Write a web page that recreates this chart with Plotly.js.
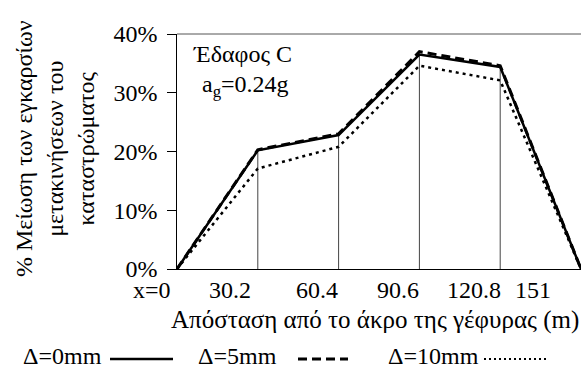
<!DOCTYPE html>
<html>
<head>
<meta charset="utf-8">
<script src="https://cdn.plot.ly/plotly-3.0.1.min.js"></script>
<style>html,body{margin:0;padding:0;background:#fff;}#chart{width:584px;height:372px;}</style>
</head>
<body>
<div id="chart"></div>
<script>
// Data
const distances = [0, 30.2, 60.4, 90.6, 120.8, 151];
const tickLabels = ['x=0', '30.2', '60.4', '90.6', '120.8', '151'];
const d0mm = [0, 20.2, 22.8, 36.5, 34.4, 0];
const d5mm = [0, 20.3, 23.0, 37.0, 34.6, 0];
const d10mm = [0, 17.1, 20.8, 34.6, 32.1, 0];
const seriesNames = ['Δ=0mm', 'Δ=5mm', 'Δ=10mm'];
const yTicks = [0, 10, 20, 30, 40];

const FONT = 'Liberation Serif';

// vertical support lines at interior positions, up to solid-line value
const vx = [], vy = [];
for (let i = 1; i < distances.length - 1; i++) {
  vx.push(distances[i], distances[i], null);
  vy.push(0, d0mm[i], null);
}

const traces = [
  {x: vx, y: vy, mode: 'lines', line: {color: '#444', width: 1}, hoverinfo: 'skip', showlegend: false},
  {x: distances, y: d10mm, mode: 'lines', name: seriesNames[2], line: {color: '#000', width: 2.5, dash: '3px,4px'}, showlegend: false},
  {x: distances, y: d5mm, mode: 'lines', name: seriesNames[1], line: {color: '#000', width: 3, dash: '9px,5px'}, showlegend: false},
  {x: distances, y: d0mm, mode: 'lines', name: seriesNames[0], line: {color: '#000', width: 2.5}, showlegend: false}
];

// plot geometry helpers (pixels -> paper)
const L = 177, R = 3, T = 34, B = 103, W = 584, H = 372;
const PW = W - L - R, PH = H - T - B;
const px = p => (p - L) / PW;
const py = p => (H - B - p) / PH;

const labelShift = [-25, -28, -22, -21, -26, -48];
const annotations = [];
distances.forEach((d, i) => {
  annotations.push({x: d, y: py(290), xref: 'x', yref: 'paper', text: tickLabels[i], showarrow: false,
    xshift: labelShift[i], xanchor: 'center', yanchor: 'middle', font: {family: FONT, size: 24, color: '#000'}});
});
annotations.push({x: px(169), y: py(320), xref: 'paper', yref: 'paper', text: 'Απόσταση από το άκρο της γέφυρας (m)',
  showarrow: false, xanchor: 'left', yanchor: 'middle', font: {family: FONT, size: 25, color: '#000'}});
annotations.push({x: px(55), y: py(149), xref: 'paper', yref: 'paper', textangle: -90,
  text: '% Μείωση των εγκαρσίων<br>μετακινήσεων του<br>καταστρώματος',
  showarrow: false, xanchor: 'center', yanchor: 'middle', font: {family: FONT, size: 24, color: '#000'}});
annotations.push({x: px(191), y: py(54), xref: 'paper', yref: 'paper', text: 'Έδαφος C',
  showarrow: false, xanchor: 'left', yanchor: 'middle', font: {family: FONT, size: 24, color: '#000'}});
annotations.push({x: px(200), y: py(86), xref: 'paper', yref: 'paper', text: 'a<sub>g</sub>=0.24g',
  showarrow: false, xanchor: 'left', yanchor: 'middle', font: {family: FONT, size: 24, color: '#000'}});

// legend (text before sample)
const legText = [104, 279, 481];
seriesNames.forEach((n, i) => {
  annotations.push({x: px(legText[i]), y: py(356), xref: 'paper', yref: 'paper', text: n, showarrow: false,
    xanchor: 'right', yanchor: 'middle', font: {family: FONT, size: 24, color: '#000'}});
});
const legLines = [[110, 173, 'solid', 2.5], [298, 348, '9px,5px', 3], [484, 548, '2px,3px', 2]];
const shapes = legLines.map(s => ({type: 'line', xref: 'paper', yref: 'paper', x0: px(s[0]), x1: px(s[1]),
  y0: py(359), y1: py(359), line: {color: '#000', width: s[3], dash: s[2]}}));
// top border
shapes.push({type: 'line', xref: 'paper', yref: 'paper', x0: 0, x1: 1, y0: 1, y1: 1, line: {color: '#555', width: 1}});

const layout = {
  width: W, height: H,
  margin: {l: L, r: R, t: T, b: B, pad: 0},
  paper_bgcolor: '#fff', plot_bgcolor: '#fff',
  font: {family: FONT, color: '#000'},
  showlegend: false,
  xaxis: {range: [0, 151], showgrid: false, zeroline: false, showline: true, linecolor: '#000', linewidth: 1,
    ticks: '', showticklabels: false, fixedrange: true},
  yaxis: {range: [0, 40], tickvals: yTicks, ticktext: yTicks.map(v => v + '%\u2009'), showgrid: false, zeroline: false,
    showline: true, linecolor: '#000', linewidth: 1, ticks: 'outside', ticklen: 9, tickcolor: '#000', tickwidth: 1,
    tickfont: {family: FONT, size: 24, color: '#000'}, fixedrange: true},
  annotations: annotations,
  shapes: shapes
};

Plotly.newPlot('chart', traces, layout, {displayModeBar: false, staticPlot: true});
</script>
</body>
</html>
